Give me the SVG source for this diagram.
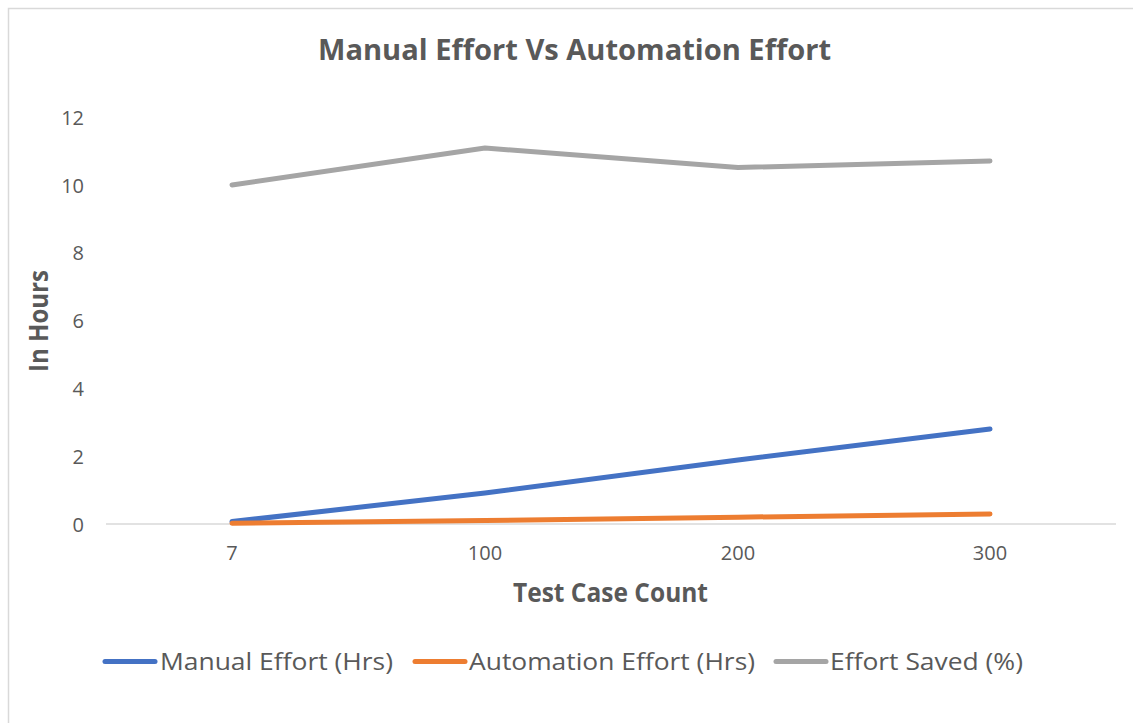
<svg xmlns="http://www.w3.org/2000/svg" width="1133" height="723" viewBox="0 0 1133 723">
  <style>
    .title { font-family: "Open Sans", "Noto Sans", sans-serif; font-weight: bold; fill: #595959; }
    .tick { font-family: "Open Sans", "Noto Sans", sans-serif; font-size: 20px; fill: #595959; }
    .legend { font-family: "Open Sans", "Noto Sans", sans-serif; font-size: 24px; fill: #595959; }
    .series { fill: none; stroke-width: 5; stroke-linecap: round; stroke-linejoin: round; }
    .manual { stroke: #4472C4; }
    .auto { stroke: #ED7D31; }
    .saved { stroke: #A5A5A5; }
  </style>

  <!-- chart area -->
  <rect x="0" y="0" width="1133" height="723" fill="#ffffff"/>
  <rect x="8.5" y="8.5" width="1140" height="730" fill="#ffffff" stroke="#D9D9D9" stroke-width="1.5"/>

  <!-- title -->
  <text class="title" x="318" y="59.5" font-size="29" textLength="513" lengthAdjust="spacingAndGlyphs">Manual Effort Vs Automation Effort</text>

  <!-- value axis labels -->
  <g id="y-axis">
    <text class="tick" x="84" y="531.5" text-anchor="end">0</text>
    <text class="tick" x="84" y="463.7" text-anchor="end">2</text>
    <text class="tick" x="84" y="395.9" text-anchor="end">4</text>
    <text class="tick" x="84" y="328.1" text-anchor="end">6</text>
    <text class="tick" x="84" y="260.3" text-anchor="end">8</text>
    <text class="tick" x="84" y="192.5" text-anchor="end">10</text>
    <text class="tick" x="84" y="124.7" text-anchor="end">12</text>
    <text class="title" font-size="26" transform="translate(48,372) rotate(-90)" textLength="102" lengthAdjust="spacingAndGlyphs">In Hours</text>
  </g>

  <!-- category axis -->
  <g id="x-axis">
    <line x1="106" y1="524" x2="1116" y2="524" stroke="#D9D9D9" stroke-width="1.5"/>
    <text class="tick" x="232" y="560" text-anchor="middle">7</text>
    <text class="tick" x="485" y="560" text-anchor="middle">100</text>
    <text class="tick" x="738" y="560" text-anchor="middle">200</text>
    <text class="tick" x="990" y="560" text-anchor="middle">300</text>
    <text class="title" x="513" y="601.5" font-size="26" textLength="195" lengthAdjust="spacingAndGlyphs">Test Case Count</text>
  </g>

  <!-- data series (33.9 px per hour, zero at y=524) -->
  <g id="series">
    <polyline id="saved" class="series saved" points="232,185 485,148 738,167.5 990,161"/>
    <polyline id="manual" class="series manual" points="232,521.6 485,493 738,460 990,429"/>
    <polyline id="automation" class="series auto" points="232,523.3 485,520.6 738,517.2 990,514"/>
  </g>

  <!-- legend -->
  <g id="legend">
    <line class="series manual" x1="105" y1="661.5" x2="155" y2="661.5"/>
    <text class="legend" x="160" y="670" textLength="233" lengthAdjust="spacingAndGlyphs">Manual Effort (Hrs)</text>
    <line class="series auto" x1="415" y1="661.5" x2="465" y2="661.5"/>
    <text class="legend" x="469" y="670" textLength="286" lengthAdjust="spacingAndGlyphs">Automation Effort (Hrs)</text>
    <line class="series saved" x1="776" y1="661.5" x2="826" y2="661.5"/>
    <text class="legend" x="830" y="670" textLength="193" lengthAdjust="spacingAndGlyphs">Effort Saved (%)</text>
  </g>
</svg>
